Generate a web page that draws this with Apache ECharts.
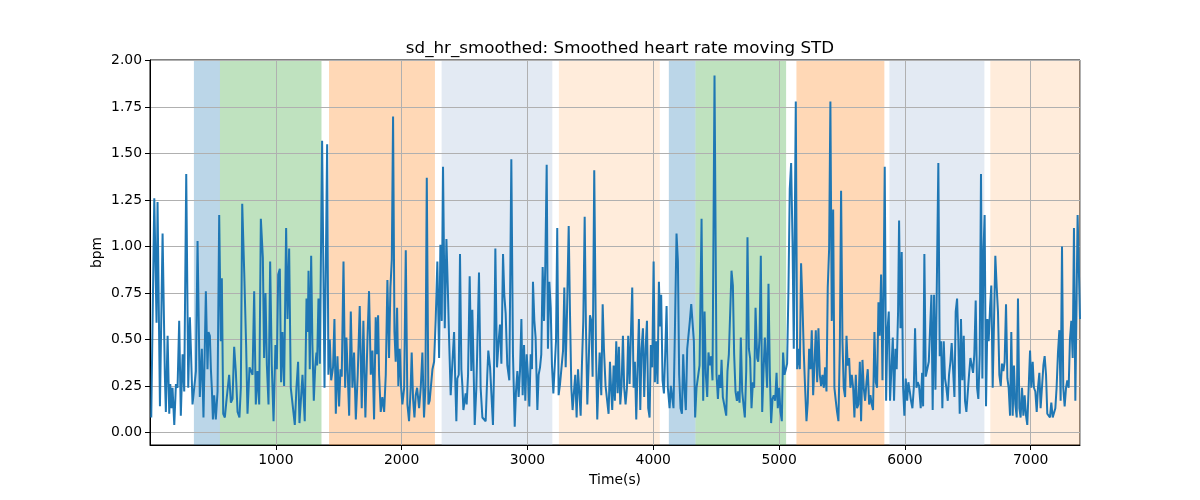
<!DOCTYPE html>
<html><head><meta charset="utf-8">
<script src="https://cdn.jsdelivr.net/npm/echarts@6/dist/echarts.min.js"></script>
<style>html,body{margin:0;padding:0;background:#fff}#c{width:1200px;height:500px}</style>
</head><body><div id="c"></div>
<script>
const chartTitle = 'sd_hr_smoothed: Smoothed heart rate moving STD';
const xName = 'Time(s)';
const yName = 'bpm';
const yTicks = [0, 0.25, 0.5, 0.75, 1.0, 1.25, 1.5, 1.75, 2.0];
const xTicks = [1000, 2000, 3000, 4000, 5000, 6000, 7000];
const xRange = [0, 7392];
const yRange = [-0.068, 2.004];

const bandStart = [349, 556, 1423, 2318, 3250, 4124, 4336, 5138, 5877, 6679];
const bandEnd   = [556, 1363, 2265, 3198, 4052, 4336, 5056, 5837, 6632, 7392];
const bandKind  = ['blue','green','orange','lightblue','lightorange','blue','green','orange','lightblue','lightorange'];

const time = [10,34,52,60,68,79,100,118,126,140,153,161,171,179,193,206,219,232,245,259,272,288,304,317,325,338,351,365,378,396,412,425,444,457,465,476,484,492,500,510,523,537,550,563,571,582,595,606,616,629,643,656,669,682,696,711,722,733,749,764,775,791,801,815,828,841,854,868,881,897,907,918,929,942,955,968,982,997,1008,1019,1032,1042,1053,1066,1082,1093,1106,1119,1132,1151,1164,1177,1188,
1199,1212,1230,1244,1254,1260,1270,1281,1291,1302,1313,1323,1328,1339,1350,1368,1387,1408,1418,1429,1440,1455,1466,1477,1490,1503,1514,1524,1538,1551,1561,1572,1583,1596,1609,1622,1636,1651,1667,1683,1696,1712,1728,1741,1755,1768,1781,1794,1802,1813,1821,1834,1847,1861,1874,1887,1900,1911,1922,1932,1943,1953,1964,1974,1985,1996,2006,2020,2033,2046,2059,2072,2080,2091,2102,2112,2123,2139,2152,2165,2178,2189,2200,2213,2223,2237,2245,2258,2271,2284,2298,2308,2319,2329,2343,2356,2367,2377,2390,2404,2417,
2425,2435,2443,2454,2464,2475,2483,2491,2501,2509,2517,2528,2541,2554,2562,2570,2581,2594,2605,2615,2628,2642,2655,2668,2681,2689,2703,2713,2726,2734,2745,2758,2771,2782,2793,2806,2816,2827,2840,2856,2872,2885,2899,2909,2920,2930,2941,2952,2962,2973,2983,2994,3004,3015,3026,3036,3044,3055,3065,3079,3089,3100,3110,3121,3132,3142,3153,3163,3174,3185,3195,3206,3216,3227,3237,3248,3259,3269,3283,3293,3304,3314,3328,3338,3349,3359,3370,3380,3391,3402,3412,3423,3433,3444,3455,3465,3476,3486,3497,3508,3518,3531,3545,3555,3563,3574,3587,3598,3608,3621,3635,3645,3656,
3664,3674,3685,3695,3706,3717,3727,3738,3748,3759,3769,3780,3791,3801,3812,3822,3833,3844,3854,3865,3875,3886,3897,3907,3918,3928,3939,3950,3960,3971,3981,3992,4003,4013,4024,4034,4045,4055,4063,4074,4085,4095,4106,4116,4130,4140,4151,4161,4172,4185,4196,4206,4217,4228,4238,4249,4259,4270,4281,4291,4302,4312,4323,4333,4344,4355,4368,4384,4397,4408,4418,4429,4439,4450,4461,4471,4487,4503,4514,4524,4535,4543,4553,4564,4580,4590,4601,4612,4622,4633,4643,4654,4665,4675,4686,4696,4707,4717,4728,4739,4749,4760,4770,4781,4792,4802,4813,4826,4834,4845,4855,4866,4876,4887,
4895,4905,4916,4927,4937,4948,4958,4969,4980,4990,5001,5011,5022,5032,5043,5054,5064,5075,5085,5096,5107,5117,5133,5144,5154,5165,5175,5186,5197,5207,5218,5228,5239,5250,5260,5271,5281,5292,5303,5313,5324,5334,5345,5356,5366,5377,5387,5398,5408,5419,5430,5440,5451,5461,5472,5483,5493,5504,5514,5525,5536,5546,5557,5567,5578,5589,5599,5610,5620,5631,5642,5652,5663,5673,5684,5695,5705,5716,5726,5737,5747,5758,5769,5779,5790,5800,5811,5822,5832,5840,5851,5861,5872,5882,5893,5904,5914,5925,5935,5946,5954,5965,5975,5986,5996,6007,6018,6028,6039,6049,6060,6071,6081,6092,6102,6113,
6126,6137,6145,6155,6166,6176,6190,6200,6211,6221,6232,6243,6253,6266,6277,6288,6298,6309,6319,6330,6341,6351,6362,6372,6383,6394,6404,6415,6425,6436,6446,6457,6468,6478,6489,6499,6510,6521,6531,6542,6552,6563,6574,6584,6595,6605,6616,6624,6634,6645,6656,6666,6677,6687,6698,6709,6719,6730,6740,6751,6762,6772,6783,6793,6804,6815,6825,6836,6846,6857,6867,6878,6889,6899,6910,6920,6931,6942,6952,6963,6973,6984,6995,7005,7016,7026,7037,7048,7058,7069,7079,7090,7101,7111,7122,7132,7143,7153,7164,7175,7185,7196,7206,7217,7228,7238,7249,7259,7270,7281,7291,7302,7312,7323,7334,7344,7355,7365,7373,7392];

const sdHr = [0.08,1.26,0.59,1.24,1.23,0.14,1.07,0.31,0.11,0.52,0.10,0.26,0.13,0.24,0.04,0.26,0.24,0.60,0.09,0.42,0.22,1.39,0.24,0.62,0.45,0.15,0.14,0.33,1.03,0.19,0.45,0.08,0.76,0.34,0.54,0.52,0.34,0.23,0.07,0.20,0.07,0.22,1.17,0.49,0.83,0.10,0.08,0.16,0.15,0.31,0.16,0.18,0.46,0.33,0.11,0.08,0.24,1.23,0.86,0.47,0.10,0.35,0.36,0.31,0.76,0.15,0.33,0.15,1.15,0.94,0.40,0.75,0.36,0.15,0.92,0.36,0.06,0.47,0.34,0.85,0.88,0.27,0.54,0.25,1.10,0.61,0.99,0.24,0.23,0.04,0.24,0.38,0.05,
0.06,0.31,0.06,0.72,0.54,0.87,0.34,0.95,0.47,0.17,0.35,0.43,0.36,0.72,0.37,1.57,0.24,1.55,0.31,0.50,0.28,0.35,0.61,0.10,0.41,0.14,0.34,0.30,0.92,0.24,0.51,0.31,0.09,0.65,0.24,0.43,0.07,0.31,0.68,0.13,0.60,0.08,0.49,0.76,0.31,0.44,0.07,0.62,0.42,0.63,0.31,0.11,0.19,0.11,0.31,0.82,0.40,0.78,0.93,1.70,0.54,0.38,0.67,0.25,0.45,0.24,0.15,0.24,0.98,0.15,0.06,0.24,0.43,0.18,0.08,0.20,0.24,0.13,0.24,0.43,0.08,0.24,1.37,0.15,0.17,0.18,0.34,0.38,0.61,0.92,0.40,1.01,0.60,1.43,0.56,1.04,0.78,0.51,0.20,0.38,0.54,
0.31,0.06,0.29,0.31,0.96,0.34,0.25,0.12,0.17,0.21,0.15,0.31,0.84,0.33,0.66,0.42,0.04,0.24,0.56,0.86,0.24,0.08,0.09,0.06,0.31,0.44,0.35,0.34,0.04,0.31,0.99,0.35,0.49,0.58,0.37,0.96,0.74,0.64,0.36,0.28,1.47,0.42,0.03,0.22,0.33,0.19,0.33,0.61,0.20,0.47,0.17,0.42,0.31,0.14,0.42,0.34,0.81,0.60,0.51,0.12,0.31,0.35,0.42,0.89,0.60,0.90,1.44,0.45,0.81,0.67,0.36,0.21,0.21,0.49,1.10,0.20,0.26,0.25,0.44,0.78,0.35,0.63,1.11,0.65,0.24,0.12,0.22,0.31,0.08,0.34,0.22,0.09,0.36,0.60,1.16,0.57,0.15,0.35,0.63,0.60,0.30,1.41,0.43,0.07,0.24,0.43,0.20,0.69,0.45,0.25,0.24,0.10,0.38,
0.25,0.12,0.36,0.17,0.49,0.21,0.46,0.15,0.25,0.52,0.24,0.15,0.24,0.52,0.26,0.52,0.78,0.24,0.38,0.07,0.34,0.61,0.12,0.45,0.56,0.19,0.45,0.60,0.13,0.08,0.47,0.35,0.92,0.27,0.49,0.26,0.81,0.57,0.74,0.28,0.21,0.42,0.68,0.24,0.13,0.25,0.24,0.13,0.54,1.07,0.92,0.31,0.13,0.10,0.42,0.23,0.12,0.45,0.46,0.60,0.69,0.69,0.49,0.08,0.24,0.24,0.36,1.15,0.17,0.65,0.31,0.19,0.43,0.36,0.41,0.28,1.92,0.31,0.18,0.31,0.24,0.39,0.19,0.15,0.09,0.33,0.42,0.42,0.87,0.79,0.42,0.22,0.17,0.22,0.16,0.51,0.22,0.15,0.08,0.33,1.05,0.45,0.40,0.13,0.27,0.24,0.67,0.40,0.38,0.51,0.95,0.11,0.32,0.51,
0.51,0.24,0.80,0.31,0.05,0.18,0.20,0.17,0.32,0.13,0.24,0.11,0.06,0.43,0.31,0.34,0.37,0.78,1.31,1.45,1.03,0.45,1.78,0.34,0.45,0.34,0.91,0.69,0.42,0.24,0.06,0.16,0.45,0.34,0.55,0.20,0.36,0.55,0.27,0.56,0.31,0.25,0.31,0.24,0.35,0.22,0.78,0.99,1.78,0.60,1.20,0.24,0.17,0.11,0.06,0.46,1.30,0.49,0.24,0.19,0.52,0.36,0.40,0.24,0.31,0.24,0.08,0.31,0.13,0.15,0.38,0.06,0.39,0.24,0.17,0.27,0.34,0.15,0.20,0.15,0.12,0.54,0.27,0.24,0.70,0.52,0.85,0.28,0.85,1.43,0.17,0.54,0.65,0.17,0.17,0.51,0.17,0.45,0.34,0.65,1.14,0.56,0.97,0.24,0.09,0.29,0.17,0.27,0.22,0.17,0.13,0.24,0.56,0.24,0.27,0.25,
0.13,0.32,0.14,0.96,0.30,0.30,0.38,0.38,0.74,0.12,0.74,0.23,0.74,1.45,0.41,0.49,0.13,0.49,0.29,0.24,0.17,0.31,0.38,0.48,0.34,0.19,0.65,0.72,0.50,0.10,0.61,0.28,0.52,0.17,0.11,0.10,0.31,0.40,0.41,0.32,0.42,0.71,0.24,0.18,0.42,1.39,0.29,0.96,1.17,0.14,0.61,0.49,0.67,0.79,0.24,0.61,0.95,0.78,0.65,0.31,0.25,0.37,0.33,0.38,0.69,0.29,0.24,0.09,0.54,0.09,0.36,0.15,0.08,0.72,0.13,0.08,0.24,0.09,0.20,0.09,0.04,0.24,0.44,0.24,0.38,0.24,0.22,0.11,0.24,0.32,0.13,0.13,0.36,0.41,0.31,0.10,0.10,0.08,0.16,0.08,0.08,0.13,0.24,0.43,0.55,0.17,1.00,0.24,0.14,0.24,0.28,0.24,0.50,0.60,0.40,1.10,0.17,0.72,1.17,0.61];

const bandColors = {
  blue: 'rgba(31,119,180,0.3)',
  green: 'rgba(44,160,44,0.3)',
  orange: 'rgba(255,127,14,0.3)',
  lightblue: 'rgba(176,196,222,0.35)',
  lightorange: 'rgba(255,127,14,0.15)'
};

const lineData = time.map((t, i) => [t, sdHr[i]]);
const bands = bandStart.map((s, i) => [
  { xAxis: s, itemStyle: { color: bandColors[bandKind[i]] } },
  { xAxis: bandEnd[i] }
]);

const FONT = 'DejaVu Sans';
const chart = echarts.init(document.getElementById('c'), null, { renderer: 'canvas' });
const plotTop = 60, plotBottom = 55, plotLeft = 150, plotRight = 120;
const plotH = 500 - plotTop - plotBottom;
const span = yRange[1] - yRange[0];
const tickTop = plotTop + plotH * (yRange[1] - yTicks[yTicks.length - 1]) / span;
const tickH = plotH * (yTicks[yTicks.length - 1] - yTicks[0]) / span;

chart.setOption({
  animation: false,
  backgroundColor: '#fff',
  title: {
    text: chartTitle, left: 615, top: 35, textAlign: 'center',
    textStyle: { fontFamily: FONT, fontSize: 16.7, fontWeight: 'normal', color: '#000' }
  },
  grid: [
    { left: plotLeft, right: plotRight, top: plotTop, bottom: plotBottom, show: true, borderColor: '#000', borderWidth: 1, backgroundColor: 'transparent' },
    { left: plotLeft, right: plotRight, top: tickTop, height: tickH, show: false }
  ],
  xAxis: [
    {
      gridIndex: 0, type: 'value', min: xRange[0], max: xRange[1], interval: 1000, z: 2,
      name: xName, nameLocation: 'middle', nameGap: 28,
      nameTextStyle: { fontFamily: FONT, fontSize: 13.9, color: '#000' },
      axisLine: { show: true, onZero: false, lineStyle: { color: '#000', width: 1 } },
      axisTick: { show: true, length: 5, lineStyle: { color: '#000' } },
      axisLabel: {
        fontFamily: FONT, fontSize: 13.9, color: '#000', margin: 8,
        showMinLabel: false, showMaxLabel: false,
        formatter: v => xTicks.indexOf(v) >= 0 ? String(v) : ''
      },
      splitLine: { show: true, lineStyle: { color: '#b0b0b0', width: 1 } }
    },
    { gridIndex: 1, type: 'value', min: xRange[0], max: xRange[1], show: false }
  ],
  yAxis: [
    {
      gridIndex: 0, type: 'value', min: yRange[0], max: yRange[1], z: 2,
      name: yName, nameLocation: 'middle', nameGap: 46, nameRotate: 90,
      nameTextStyle: { fontFamily: FONT, fontSize: 13.9, color: '#000' },
      axisLine: { show: true, onZero: false, lineStyle: { color: '#000', width: 1 } },
      axisTick: { show: false }, axisLabel: { show: false }, splitLine: { show: false }
    },
    {
      gridIndex: 1, type: 'value', min: yTicks[0], max: yTicks[yTicks.length - 1], interval: 0.25, z: 2,
      axisLine: { show: false },
      axisTick: { show: true, length: 5, lineStyle: { color: '#000' } },
      axisLabel: { fontFamily: FONT, fontSize: 13.9, color: '#000', margin: 8, formatter: v => v.toFixed(2) },
      splitLine: { show: true, lineStyle: { color: '#b0b0b0', width: 1 } }
    }
  ],
  series: [
    {
      type: 'line', xAxisIndex: 0, yAxisIndex: 0, data: [], z: 1, silent: true,
      markArea: { silent: true, data: bands }
    },
    { type: 'line', xAxisIndex: 1, yAxisIndex: 1, data: [], silent: true },
    {
      type: 'line', xAxisIndex: 0, yAxisIndex: 0, data: lineData, z: 3,
      showSymbol: false, symbol: 'none', smooth: false,
      lineStyle: { color: '#1f77b4', width: 2 }, itemStyle: { color: '#1f77b4' }
    }
  ]
});
</script>
</body></html>
